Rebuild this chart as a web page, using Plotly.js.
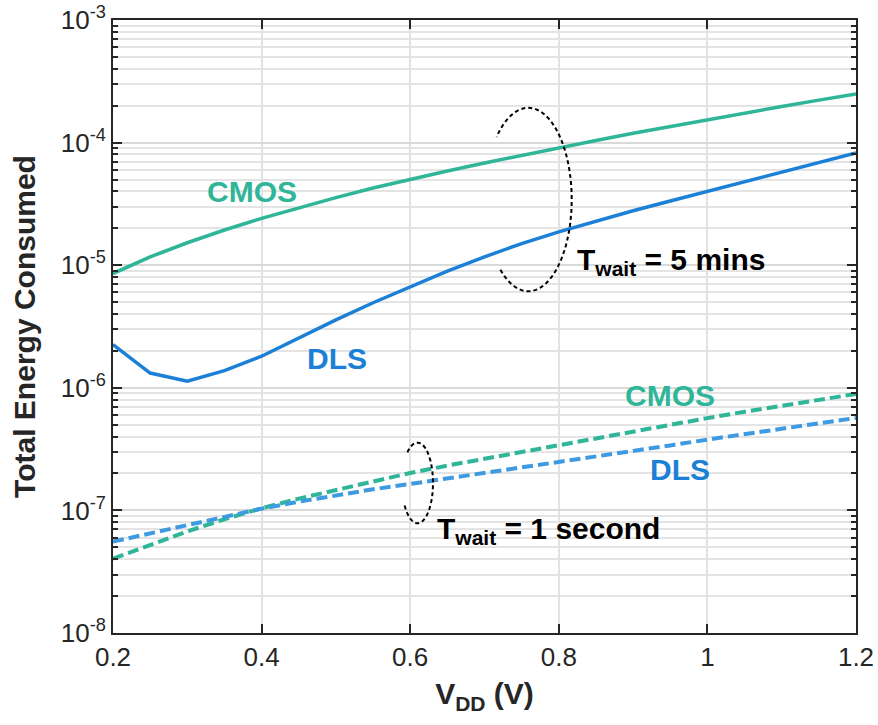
<!DOCTYPE html>
<html>
<head>
<meta charset="utf-8">
<script src="https://cdn.plot.ly/plotly-3.0.1.min.js"></script>
<style>html,body{margin:0;padding:0;background:#fff;}#chart{width:878px;height:725px;}</style>
</head>
<body>
<div id="chart"></div>
<script>
// ---- data ----
var vdd = [0.2,0.25,0.3,0.35,0.4,0.45,0.5,0.55,0.6,0.65,0.7,0.75,0.8,0.85,0.9,0.95,1.0,1.05,1.1,1.15,1.2];
var cmos5min = [8.55e-6,1.167e-5,1.524e-5,1.936e-5,2.41e-5,2.95e-5,3.56e-5,4.26e-5,5.02e-5,5.87e-5,6.82e-5,7.89e-5,9.08e-5,1.04e-4,1.19e-4,1.355e-4,1.54e-4,1.74e-4,1.97e-4,2.22e-4,2.49e-4];
var dls5min = [2.25e-6,1.32e-6,1.13e-6,1.38e-6,1.81e-6,2.55e-6,3.58e-6,4.94e-6,6.70e-6,8.93e-6,1.17e-5,1.50e-5,1.87e-5,2.29e-5,2.78e-5,3.34e-5,4.01e-5,4.82e-5,5.78e-5,6.92e-5,8.24e-5];
var cmos1s = [4.04e-8,5.25e-8,6.73e-8,8.47e-8,1.042e-7,1.247e-7,1.472e-7,1.73e-7,2.02e-7,2.32e-7,2.64e-7,3.01e-7,3.41e-7,3.88e-7,4.41e-7,5.0e-7,5.66e-7,6.38e-7,7.16e-7,8.0e-7,8.91e-7];
var dls1s = [5.56e-8,6.52e-8,7.64e-8,8.91e-8,1.033e-7,1.178e-7,1.33e-7,1.486e-7,1.644e-7,1.82e-7,2.01e-7,2.23e-7,2.47e-7,2.74e-7,3.05e-7,3.39e-7,3.78e-7,4.18e-7,4.62e-7,5.13e-7,5.68e-7];

var xTickVals = [0.2,0.4,0.6,0.8,1.0,1.2];
var xTickText = ['0.2','0.4','0.6','0.8','1','1.2'];
var yTickVals = [1e-8,1e-7,1e-6,1e-5,1e-4,1e-3];
var yTickText = ['10<sup>-8</sup>','10<sup>-7</sup>','10<sup>-6</sup>','10<sup>-5</sup>','10<sup>-4</sup>','10<sup>-3</sup>'];

// ---- styling ----
var GREEN = '#2fb597', BLUE = '#1b80d6', BLUE_D = '#3e9be2', AX = '#262626';
var FONT = 'Liberation Sans, Arial, Helvetica, sans-serif';

var yMinor = [];
for (var d = -8; d < -3; d++) {
  for (var m = 2; m <= 9; m++) yMinor.push(m * Math.pow(10, d));
}

var traces = [
  {x: vdd, y: cmos1s, mode: 'lines', line: {color: GREEN, width: 4, dash: '11px,5px'}, hoverinfo: 'skip'},
  {x: vdd, y: dls1s, mode: 'lines', line: {color: BLUE_D, width: 4, dash: '11px,5px'}, hoverinfo: 'skip'},
  {x: vdd, y: cmos5min, mode: 'lines', line: {color: GREEN, width: 3.5}, hoverinfo: 'skip'},
  {x: vdd, y: dls5min, mode: 'lines', line: {color: BLUE, width: 3.5}, hoverinfo: 'skip'}
];

// pixel -> paper helpers for decorations
var L = 113, R = 856, T = 20.5, B = 633.3;
function fx(p) { return (p - L) / (R - L); }
function fy(p) { return (B - p) / (B - T); }

function arcPath(cx, cy, rx, ry, a0, a1) {
  var s = '', n = 80;
  for (var i = 0; i <= n; i++) {
    var t = (a0 + (a1 - a0) * i / n) * Math.PI / 180;
    var px = cx + rx * Math.cos(t), py = cy - ry * Math.sin(t);
    s += (i === 0 ? 'M ' : ' L ') + fx(px).toFixed(5) + ',' + fy(py).toFixed(5);
  }
  return s;
}

var shapes = [
  {type: 'path', xref: 'paper', yref: 'paper', path: arcPath(528.3, 200, 43.4, 91.7, -130, 137),
   line: {color: '#000', width: 2, dash: '4px,3px'}},
  {type: 'path', xref: 'paper', yref: 'paper', path: arcPath(417.5, 483.3, 15.5, 40.3, -146, 136),
   line: {color: '#000', width: 2, dash: '4px,3px'}}
];

function ann(text, x, y, color, xanchor) {
  return {text: text, xref: 'paper', yref: 'paper', x: fx(x), y: fy(y), xanchor: xanchor || 'center', yanchor: 'middle',
          showarrow: false, font: {family: FONT, size: 30, color: color, weight: 'bold'}};
}

var annotations = [
  ann('CMOS', 252, 191.5, GREEN),
  ann('DLS', 337, 358.7, BLUE),
  ann('CMOS', 669.5, 396, GREEN),
  ann('DLS', 679.7, 469.7, BLUE),
  ann('T<sub>wait</sub> = 5 mins', 575, 262, '#000', 'left'),
  ann('T<sub>wait</sub> = 1 second', 435, 531, '#000', 'left')
];

var layout = {
  width: 878, height: 725,
  margin: {l: 113, r: 22, t: 20, b: 92},
  paper_bgcolor: '#fff', plot_bgcolor: '#fff',
  showlegend: false,
  font: {family: FONT, color: AX},
  xaxis: {
    range: [0.2, 1.2], tickmode: 'array', tickvals: xTickVals, ticktext: xTickText,
    ticks: 'inside', ticklen: 9, tickwidth: 2, tickcolor: AX,
    showline: true, linewidth: 2, linecolor: AX, mirror: 'ticks',
    showgrid: true, gridcolor: '#e2e2e2', gridwidth: 2, zeroline: false,
    tickfont: {family: FONT, size: 26, color: AX},
    title: {text: 'V<sub>DD</sub> (V)', font: {family: FONT, size: 30, color: AX, weight: 'bold'}, standoff: 12}
  },
  yaxis: {
    type: 'log', range: [-8, -3], tickmode: 'array', tickvals: yTickVals, ticktext: yTickText,
    ticks: 'inside', ticklen: 9, tickwidth: 2, tickcolor: AX,
    showline: true, linewidth: 2, linecolor: AX, mirror: 'ticks',
    showgrid: true, gridcolor: '#d9d9d9', gridwidth: 2, zeroline: false,
    tickfont: {family: FONT, size: 26, color: AX},
    minor: {tickmode: 'array', tickvals: yMinor, ticks: 'inside', ticklen: 5, tickwidth: 2, tickcolor: AX,
            showgrid: true, gridcolor: '#e4e4e4', gridwidth: 2},
    title: {text: 'Total Energy Consumed', font: {family: FONT, size: 30, color: AX, weight: 'bold'}, standoff: 16}
  },
  shapes: shapes,
  annotations: annotations
};

Plotly.newPlot('chart', traces, layout, {staticPlot: true, displayModeBar: false});
</script>
</body>
</html>
